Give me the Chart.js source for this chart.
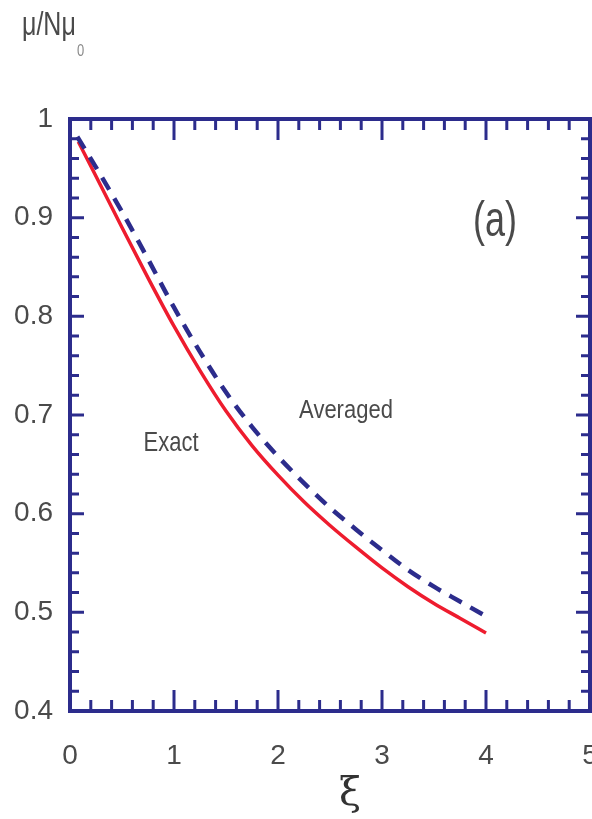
<!DOCTYPE html>
<html><head><meta charset="utf-8">
<script src="https://cdn.jsdelivr.net/npm/chart.js@4.4.1/dist/chart.umd.min.js"></script>
<style>html,body{margin:0;padding:0;background:#fff;}#wrap{width:592px;height:819px;}</style>
</head><body><div id="wrap"><canvas id="c" width="592" height="819"></canvas></div>
<script>
// ---- data ----
const exactXi = [0.08, 0.25, 0.5, 0.75, 1.0, 1.25, 1.5, 1.75, 2.0, 2.25, 2.5, 2.75, 3.0, 3.25, 3.5, 3.75, 4.0];
const exactMu = [0.977, 0.942, 0.890, 0.839, 0.790, 0.745, 0.704, 0.669, 0.639, 0.612, 0.588, 0.566, 0.545, 0.526, 0.509, 0.494, 0.479];
const avgXi = [0.07, 0.25, 0.5, 0.75, 1.0, 1.25, 1.5, 1.75, 2.0, 2.25, 2.5, 2.75, 3.0, 3.25, 3.5, 3.75, 4.0];
const avgMu = [0.982, 0.951, 0.906, 0.858, 0.809, 0.764, 0.723, 0.688, 0.658, 0.631, 0.606, 0.584, 0.563, 0.543, 0.526, 0.511, 0.496];
const xTickValues = [0, 1, 2, 3, 4, 5];
const xTickLabels = ['0', '1', '2', '3', '4', '5'];
const yTickValues = [0.4, 0.5, 0.6, 0.7, 0.8, 0.9, 1.0];
const yTickLabels = ['0.4', '0.5', '0.6', '0.7', '0.8', '0.9', '1'];
const xMinorStep = 0.2;
const yMinorStep = 0.02;
const seriesNames = ['Exact', 'Averaged'];
const panelLabel = '(a)';
const yTitle = 'μ/Nμ';
const yTitleSub = '0';
const xTitle = 'ξ';

const NAVY = '#2c2c8c';
const RED = '#ee1c2e';
const TXT = '#4a4a4a';

const framePlugin = {
  id: 'frame',
  afterDatasetsDraw(chart) {
    const {ctx, chartArea: a, scales: {x, y}} = chart;
    ctx.save();
    ctx.strokeStyle = NAVY;
    ctx.lineCap = 'butt';
    ctx.lineWidth = 3;
    const xMin = x.min, xMax = x.max, yMin = y.min, yMax = y.max;
    const nx = Math.round((xMax - xMin) / xMinorStep);
    for (let i = 1; i < nx; i++) {
      const v = xMin + i * xMinorStep;
      const major = xTickValues.some(t => Math.abs(t - v) < 1e-6);
      const len = major ? 21 : 11;
      const px = x.getPixelForValue(v);
      ctx.beginPath();
      ctx.moveTo(px, a.bottom); ctx.lineTo(px, a.bottom - len);
      ctx.moveTo(px, a.top); ctx.lineTo(px, a.top + len);
      ctx.stroke();
    }
    const ny = Math.round((yMax - yMin) / yMinorStep);
    for (let i = 1; i < ny; i++) {
      const v = yMin + i * yMinorStep;
      const major = yTickValues.some(t => Math.abs(t - v) < 1e-6);
      const len = major ? 14 : 9;
      const py = y.getPixelForValue(v);
      ctx.beginPath();
      ctx.moveTo(a.left, py); ctx.lineTo(a.left + len, py);
      ctx.moveTo(a.right, py); ctx.lineTo(a.right - len, py);
      ctx.stroke();
    }
    ctx.lineWidth = 4;
    ctx.strokeRect(a.left, a.top, a.right - a.left, a.bottom - a.top);

    ctx.fillStyle = TXT;
    ctx.textAlign = 'center';
    ctx.textBaseline = 'alphabetic';
    function stretched(text, cx, by, font, sy) {
      ctx.save();
      ctx.font = font;
      ctx.translate(cx, by);
      ctx.scale(1, sy);
      ctx.fillText(text, 0, 0);
      ctx.restore();
    }
    stretched(panelLabel, 495, 236, '36px "Liberation Sans", Arial, sans-serif', 1.4);
    stretched(seriesNames[1], 346, 418, '22px "Liberation Sans", Arial, sans-serif', 1.2);
    stretched(seriesNames[0], 171, 451, '22px "Liberation Sans", Arial, sans-serif', 1.25);
    ctx.textAlign = 'left';
    stretched(yTitle, 22, 35, '25px "Liberation Sans", Arial, sans-serif', 1.3);
    ctx.fillStyle = '#8a8a8a';
    stretched(yTitleSub, 77, 56, '13px "Liberation Sans", Arial, sans-serif', 1.2);
    ctx.fillStyle = '#333';
    ctx.textAlign = 'center';
    ctx.font = '40px "DejaVu Serif", serif';
    ctx.fillText(xTitle, 350, 805);
    ctx.restore();
  }
};

new Chart(document.getElementById('c'), {
  type: 'line',
  data: {
    datasets: [
      {
        label: seriesNames[0],
        data: exactXi.map((v, i) => ({x: v, y: exactMu[i]})),
        borderColor: RED, borderWidth: 3.5, pointRadius: 0,
        cubicInterpolationMode: 'monotone', fill: false, order: 1
      },
      {
        label: seriesNames[1],
        data: avgXi.map((v, i) => ({x: v, y: avgMu[i]})),
        borderColor: NAVY, borderWidth: 4.5, borderDash: [14, 10], pointRadius: 0,
        cubicInterpolationMode: 'monotone', fill: false, order: 0
      }
    ]
  },
  options: {
    responsive: false,
    animation: false,
    devicePixelRatio: 1,
    layout: {autoPadding: false, padding: {top: 119, right: 2, left: 0, bottom: 0}},
    plugins: {legend: {display: false}, tooltip: {enabled: false}},
    scales: {
      x: {
        type: 'linear', min: 0, max: 5,
        afterBuildTicks: s => { s.ticks = xTickValues.map(v => ({value: v})); },
        afterFit: s => { s.height = 108; s.paddingLeft = 0; s.paddingRight = 0; },
        grid: {display: false, drawTicks: false},
        border: {display: false},
        ticks: {
          callback: (v, i) => xTickLabels[i],
          font: {family: '"Liberation Sans", Arial, sans-serif', size: 28},
          color: TXT, padding: 28, maxRotation: 0
        }
      },
      y: {
        type: 'linear', min: 0.4, max: 1.0,
        afterBuildTicks: s => { s.ticks = yTickValues.map(v => ({value: v})); },
        afterFit: s => { s.width = 70; },
        grid: {display: false, drawTicks: false},
        border: {display: false},
        ticks: {
          callback: (v, i) => yTickLabels[i],
          font: {family: '"Liberation Sans", Arial, sans-serif', size: 28},
          color: TXT, padding: 17
        }
      }
    }
  },
  plugins: [framePlugin]
});
</script>
</body></html>
